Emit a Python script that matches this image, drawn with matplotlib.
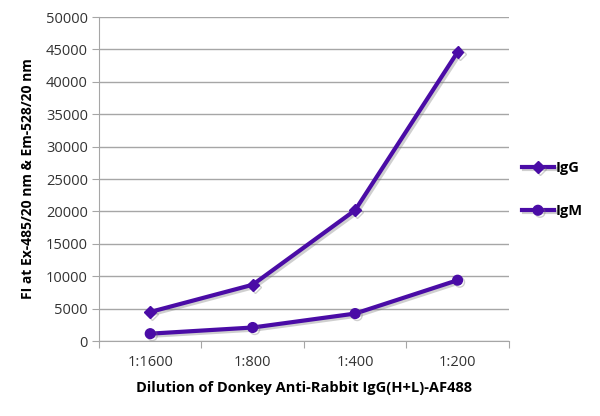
import matplotlib
matplotlib.use("Agg")
import matplotlib.pyplot as plt
import matplotlib.patheffects as pe
import numpy as np

# datos
diluciones = ["1:1600", "1:800", "1:400", "1:200"]
igg = [4500, 8700, 20200, 44600]
igm = [1150, 2100, 4250, 9400]

color = "#4a0ca6"
gris = "#a6a6a6"

plt.rcParams["font.family"] = ["Open Sans", "DejaVu Sans"]

fig = plt.figure(figsize=(6, 4.16), dpi=100)
ax = fig.add_axes([0.165, 0.18, 0.683, 0.779])

x = np.arange(len(diluciones))
sombra = [pe.SimpleLineShadow(offset=(1.5, -1.5), shadow_color="#777777", alpha=0.35), pe.Normal()]
ax.plot(x, igg, color=color, lw=3, marker="D", ms=6, label="IgG", path_effects=sombra)
ax.plot(x, igm, color=color, lw=3, marker="o", ms=7, label="IgM", path_effects=sombra)

ax.set_xlim(-0.5, 3.5)
ax.set_ylim(0, 50000)
ax.set_yticks(np.arange(0, 50001, 5000))
ax.set_xticks(np.arange(-0.5, 3.6, 1))
ax.set_xticklabels([])
ax.set_xticks(x, minor=True)
ax.set_xticklabels(diluciones, minor=True)
ax.tick_params(axis="x", which="minor", length=0, pad=10, labelsize=10.5, colors="#333333")
ax.tick_params(axis="x", which="major", length=5, color=gris)
ax.tick_params(axis="y", length=5, color=gris, labelsize=10.5, labelcolor="#333333", pad=3)

ax.grid(axis="y", color=gris, lw=1)
ax.set_axisbelow(True)
for s in ["top", "right"]:
    ax.spines[s].set_visible(False)
ax.spines["left"].set_color(gris)
ax.spines["bottom"].set_color(gris)

ax.set_ylabel("FI at Ex-485/20 nm & Em-528/20 nm", fontsize=10, fontweight="bold", labelpad=8)
ax.set_xlabel("Dilution of Donkey Anti-Rabbit IgG(H+L)-AF488", fontsize=10.5, fontweight="bold", labelpad=8)

ax.legend(loc="center left", bbox_to_anchor=(1.0, 0.467), frameon=False,
          handlelength=2.2, handletextpad=0.1, labelspacing=2.0,
          prop={"weight": "bold", "size": 10.5})

fig.savefig("out.png", dpi=100)
